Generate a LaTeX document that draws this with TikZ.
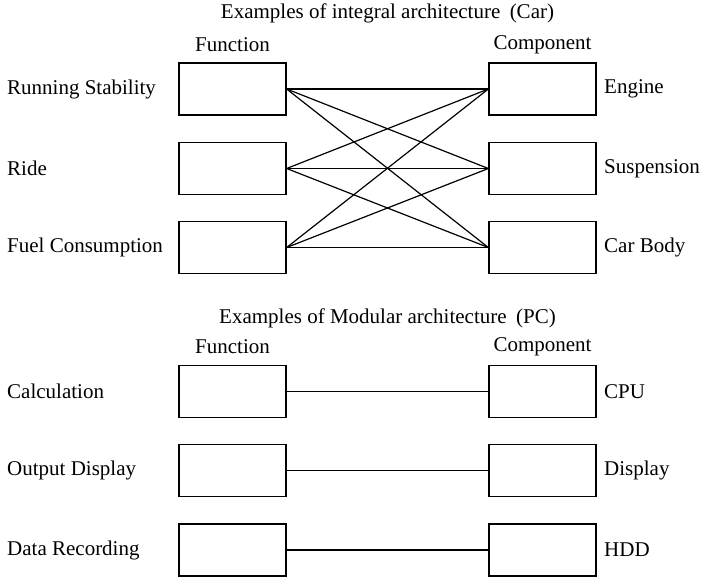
\documentclass[tikz,border=0pt]{standalone}
\usepackage{fontspec}
\setmainfont{Liberation Serif}
\begin{document}
\begin{tikzpicture}[x=1pt,y=-1pt,
  box/.style={draw,line width=1.3pt,minimum width=107pt,minimum height=52pt,inner sep=0pt},
  lbl/.style={font=\fontsize{21}{21}\selectfont,inner sep=0pt},
  link/.style={line width=1.2pt}]
\useasboundingbox (0,0) rectangle (706,580);
% integral
\node[lbl] (t1) at (387.5,13) {Examples of integral architecture\hspace{0.45em}(Car)};
\node[lbl] (f1) at (232.5,45) {Function};
\node[lbl] (c1) at (542.5,45) {Component};
\foreach \i/\y/\fl/\cl in {1/89/Running Stability/Engine,2/168.5/Ride/Suspension,3/247.5/Fuel Consumption/Car Body}{
  \node[box] (L\i) at (232.5,\y) {};
  \node[box] (R\i) at (542.5,\y) {};
  \node[lbl,anchor=west] (lf\i) at (7,\y) {\fl};
  \node[lbl,anchor=west] (rc\i) at (604,\y) {\cl};
}
\foreach \a in {1,2,3}{\foreach \b in {1,2,3}{\draw[link] (L\a.east) -- (R\b.west);}}
% modular
\node[lbl] (t2) at (387.5,318) {Examples of Modular architecture\hspace{0.45em}(PC)};
\node[lbl] (f2) at (232.5,347) {Function};
\node[lbl] (c2) at (542.5,347) {Component};
\foreach \i/\y/\fl/\cl in {4/391.5/Calculation/CPU,5/470.5/Output Display/Display,6/550/Data Recording/HDD}{
  \node[box] (L\i) at (232.5,\y) {};
  \node[box] (R\i) at (542.5,\y) {};
  \node[lbl,anchor=west] (lf\i) at (7,\y) {\fl};
  \node[lbl,anchor=west] (rc\i) at (604,\y) {\cl};
  \draw[link] (L\i.east) -- (R\i.west);
}
\end{tikzpicture}
\end{document}
